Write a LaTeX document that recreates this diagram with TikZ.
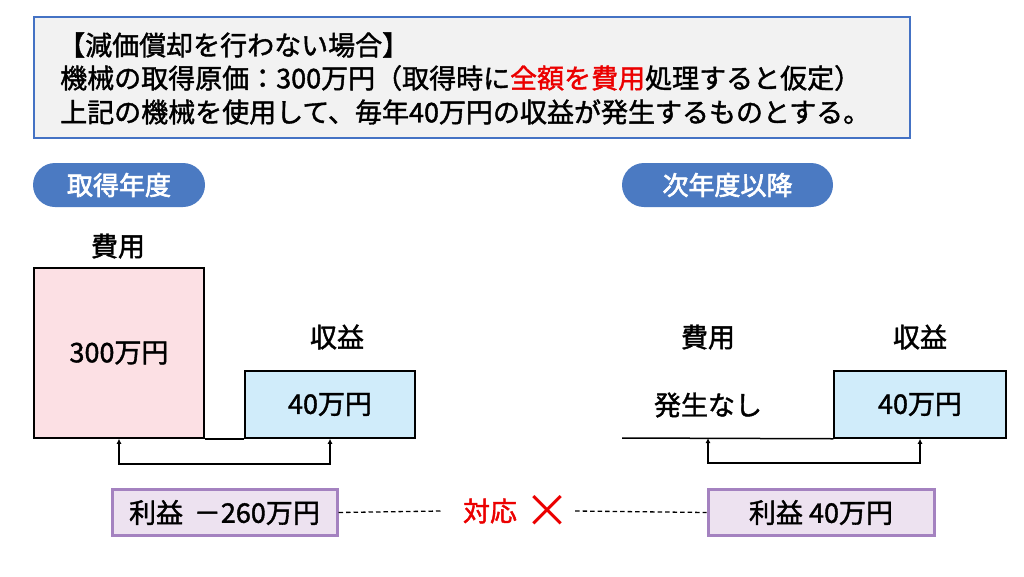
\documentclass[tikz,border=0pt]{standalone}
\usepackage{fontspec}
\setmainfont{Noto Sans CJK JP}[FakeBold=1.5]
\newfontfamily\pillfont{Noto Sans CJK JP}[FakeBold=2.5]
\newfontfamily\crossfont{Noto Sans CJK JP}
\usetikzlibrary{arrows.meta}
\definecolor{hdrblue}{RGB}{68,114,196}
\definecolor{pillblue}{RGB}{75,122,194}
\definecolor{hdrgray}{RGB}{242,242,242}
\definecolor{pinkfill}{RGB}{252,224,228}
\definecolor{bluefill}{RGB}{208,236,250}
\definecolor{purpfill}{RGB}{237,226,240}
\definecolor{purpline}{RGB}{164,130,192}
\definecolor{myred}{RGB}{235,0,0}
\tikzset{
  pill/.style={fill=pillblue, text=white, rounded corners=22pt, minimum height=44pt, inner sep=0pt, font=\pillfont\fontsize{26}{30}\selectfont},
  lbl/.style={inner sep=0pt, font=\fontsize{27}{31}\selectfont},
  box/.style={draw=black, line width=1.5pt, inner sep=0pt, font=\fontsize{27}{31}\selectfont},
  profit/.style={draw=purpline, fill=purpfill, line width=3pt, inner sep=0pt, minimum height=46pt, font=\fontsize{27}{31}\selectfont},
  hdr/.style={anchor=west, inner sep=0pt, font=\fontsize{27}{31}\selectfont},
  tip/.style={{Latex[length=5pt,width=5pt]}-{Latex[length=5pt,width=5pt]}, line width=1.5pt},
  dashline/.style={dash pattern=on 4.5pt off 3pt, line width=1.3pt},
}
\begin{document}
\begin{tikzpicture}[x=1pt,y=-1pt]
\useasboundingbox (0,0) rectangle (1024,576);
% header
\node[draw=hdrblue, fill=hdrgray, line width=1.5pt, minimum width=876pt, minimum height=121pt, inner sep=0pt] (hdrbox) at (472,77.5) {};
\node[hdr] (h1) at (58,45) {【減価償却を行わない場合】};
\node[hdr] (h2) at (60,78) {機械の取得原価：300万円（取得時に\textcolor{myred}{全額を費用}処理すると仮定）};
\node[hdr] (h3) at (60,112) {上記の機械を使用して、毎年40万円の収益が発生するものとする。};
% pills
\node[pill, minimum width=172pt] (p1) at (119,185) {取得年度};
\node[pill, minimum width=211pt] (p2) at (727.5,185) {次年度以降};
% left side
\node[lbl] (hiyouL) at (118,246) {費用};
\node[box, fill=pinkfill, minimum width=170pt, minimum height=170pt] (pink) at (119,353) {300万円};
\node[lbl] (shuekiL) at (337,337) {収益};
\node[box, fill=bluefill, minimum width=170pt, minimum height=67pt] (blueL) at (330,404.5) {40万円};
\draw[line width=1.5pt] (pink.south east) -- (blueL.south west);
\draw[tip] (pink.south) -- ++(0,25) -| (blueL.south);
% right side
\node[lbl] (hiyouR) at (708,337) {費用};
\node[lbl] (nashi) at (708,405) {発生なし};
\node[lbl] (shuekiR) at (920,337) {収益};
\node[box, fill=bluefill, minimum width=172pt, minimum height=67pt] (blueR) at (920,404.5) {40万円};
\coordinate (r0) at (622,438);
\coordinate (r1) at (708,438);
\draw[line width=1.5pt] (r0) -- (blueR.south west);
\draw[tip] (r1) -- ++(0,25) -| (blueR.south);
% profits
\node[profit, minimum width=225pt] (profL) at (224.5,512.5) {利益\hspace{0.4em}－260万円};
\node[profit, minimum width=226pt] (profR) at (821,512.5) {利益 40万円};
\node[lbl, text=myred, inner xsep=21pt] (taiou) at (490,511) {対応};
\node[inner xsep=0pt, inner ysep=0pt, minimum width=56pt, text=myred, font=\crossfont\fontsize{46}{48}\selectfont] (cross) at (547,511) {×};
\draw[dashline] (profL.east) -- (taiou.west);
\draw[dashline] (cross.east) -- (profR.west);
\end{tikzpicture}
\end{document}
